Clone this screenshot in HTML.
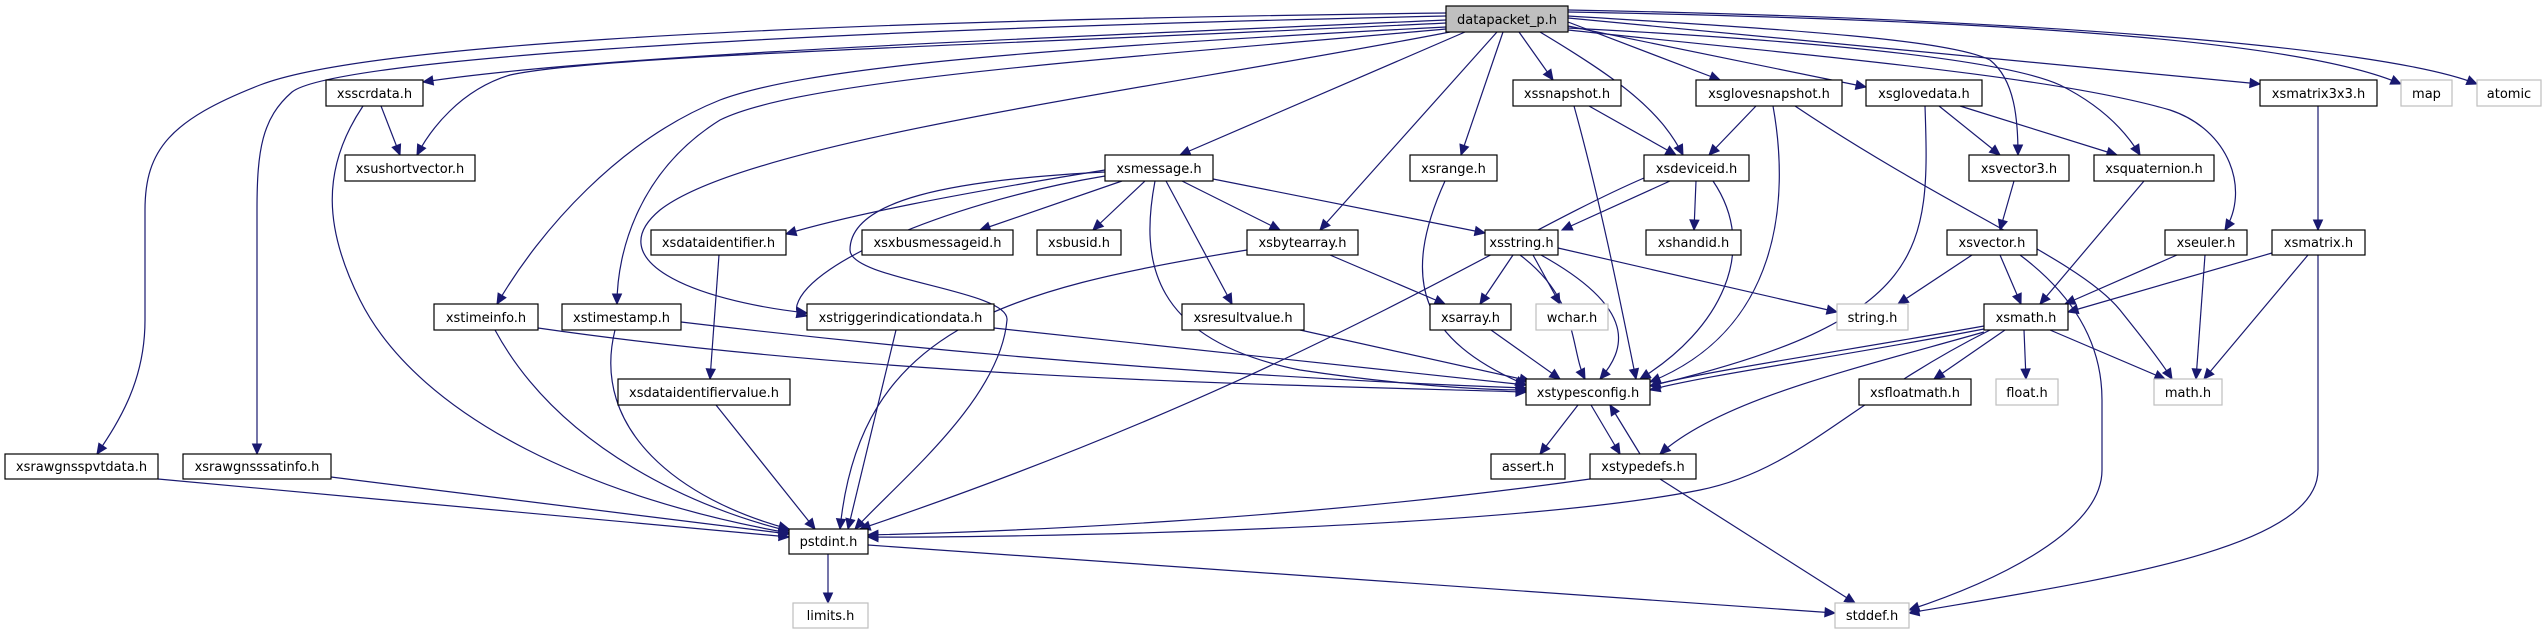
<!DOCTYPE html>
<html><head><meta charset="utf-8"><style>
html,body{margin:0;padding:0;background:#fff;}
svg{display:block;}
.n rect{fill:#fff;stroke:#000;stroke-width:1.2;}
.g rect{fill:#fff;stroke:#bfbfbf;stroke-width:1.2;}
text{font-family:"DejaVu Sans","Liberation Sans",sans-serif;font-size:13px;fill:#000;}
</style></head><body>
<svg id="s" width="2542" height="635" viewBox="0 0 2542 635" xmlns="http://www.w3.org/2000/svg">
<g id="edges" fill="none" stroke="#191970" stroke-width="1.2"></g>
<g id="arrows" fill="#191970" stroke="#191970" stroke-width="1"></g>
<g id="nodes">
<g class="n"><rect x="1446" y="6" width="122" height="26" style="fill:#bfbfbf"/><text x="1507" y="24" text-anchor="middle">datapacket_p.h</text></g>
<g class="n"><rect x="326" y="80" width="97" height="26"/><text x="374.5" y="98" text-anchor="middle">xsscrdata.h</text></g>
<g class="n"><rect x="345" y="155" width="130" height="26"/><text x="410" y="173" text-anchor="middle">xsushortvector.h</text></g>
<g class="n"><rect x="651" y="230" width="135" height="25"/><text x="718.5" y="247" text-anchor="middle">xsdataidentifier.h</text></g>
<g class="n"><rect x="434" y="304" width="104" height="26"/><text x="486" y="322" text-anchor="middle">xstimeinfo.h</text></g>
<g class="n"><rect x="562" y="304" width="119" height="26"/><text x="621.5" y="322" text-anchor="middle">xstimestamp.h</text></g>
<g class="n"><rect x="807" y="304" width="187" height="26"/><text x="900.5" y="322" text-anchor="middle">xstriggerindicationdata.h</text></g>
<g class="n"><rect x="1513" y="80" width="108" height="26"/><text x="1567" y="98" text-anchor="middle">xssnapshot.h</text></g>
<g class="n"><rect x="1105" y="155" width="108" height="26"/><text x="1159" y="173" text-anchor="middle">xsmessage.h</text></g>
<g class="n"><rect x="1410" y="155" width="87" height="26"/><text x="1453.5" y="173" text-anchor="middle">xsrange.h</text></g>
<g class="n"><rect x="1644" y="155" width="105" height="26"/><text x="1696.5" y="173" text-anchor="middle">xsdeviceid.h</text></g>
<g class="n"><rect x="862" y="230" width="151" height="25"/><text x="937.5" y="247" text-anchor="middle">xsxbusmessageid.h</text></g>
<g class="n"><rect x="1037" y="230" width="84" height="25"/><text x="1079" y="247" text-anchor="middle">xsbusid.h</text></g>
<g class="n"><rect x="1247" y="230" width="111" height="25"/><text x="1302.5" y="247" text-anchor="middle">xsbytearray.h</text></g>
<g class="n"><rect x="1485" y="230" width="73" height="25"/><text x="1521.5" y="247" text-anchor="middle">xsstring.h</text></g>
<g class="n"><rect x="1646" y="230" width="95" height="25"/><text x="1693.5" y="247" text-anchor="middle">xshandid.h</text></g>
<g class="n"><rect x="1182" y="304" width="122" height="26"/><text x="1243" y="322" text-anchor="middle">xsresultvalue.h</text></g>
<g class="n"><rect x="1430" y="304" width="81" height="26"/><text x="1470.5" y="322" text-anchor="middle">xsarray.h</text></g>
<g class="g"><rect x="1536" y="304" width="72" height="26"/><text x="1572" y="322" text-anchor="middle">wchar.h</text></g>
<g class="n"><rect x="1696" y="80" width="146" height="26"/><text x="1769" y="98" text-anchor="middle">xsglovesnapshot.h</text></g>
<g class="n"><rect x="1866" y="80" width="116" height="26"/><text x="1924" y="98" text-anchor="middle">xsglovedata.h</text></g>
<g class="n"><rect x="2260" y="80" width="117" height="26"/><text x="2318.5" y="98" text-anchor="middle">xsmatrix3x3.h</text></g>
<g class="g"><rect x="2401" y="80" width="51" height="26"/><text x="2426.5" y="98" text-anchor="middle">map</text></g>
<g class="g"><rect x="2477" y="80" width="64" height="26"/><text x="2509" y="98" text-anchor="middle">atomic</text></g>
<g class="n"><rect x="1969" y="155" width="100" height="26"/><text x="2019" y="173" text-anchor="middle">xsvector3.h</text></g>
<g class="n"><rect x="2094" y="155" width="120" height="26"/><text x="2154" y="173" text-anchor="middle">xsquaternion.h</text></g>
<g class="n"><rect x="1947" y="230" width="90" height="25"/><text x="1992" y="247" text-anchor="middle">xsvector.h</text></g>
<g class="n"><rect x="2165" y="230" width="82" height="25"/><text x="2206" y="247" text-anchor="middle">xseuler.h</text></g>
<g class="n"><rect x="2272" y="230" width="93" height="25"/><text x="2318.5" y="247" text-anchor="middle">xsmatrix.h</text></g>
<g class="g"><rect x="1837" y="304" width="71" height="26"/><text x="1872.5" y="322" text-anchor="middle">string.h</text></g>
<g class="n"><rect x="1984" y="304" width="84" height="26"/><text x="2026" y="322" text-anchor="middle">xsmath.h</text></g>
<g class="n"><rect x="618" y="379" width="172" height="26"/><text x="704" y="397" text-anchor="middle">xsdataidentifiervalue.h</text></g>
<g class="n"><rect x="1526" y="379" width="124" height="26"/><text x="1588" y="397" text-anchor="middle">xstypesconfig.h</text></g>
<g class="n"><rect x="1859" y="379" width="112" height="26"/><text x="1915" y="397" text-anchor="middle">xsfloatmath.h</text></g>
<g class="g"><rect x="1996" y="379" width="62" height="26"/><text x="2027" y="397" text-anchor="middle">float.h</text></g>
<g class="g"><rect x="2154" y="379" width="68" height="26"/><text x="2188" y="397" text-anchor="middle">math.h</text></g>
<g class="n"><rect x="5" y="454" width="153" height="25"/><text x="81.5" y="471" text-anchor="middle">xsrawgnsspvtdata.h</text></g>
<g class="n"><rect x="183" y="454" width="148" height="25"/><text x="257" y="471" text-anchor="middle">xsrawgnsssatinfo.h</text></g>
<g class="n"><rect x="1491" y="454" width="74" height="25"/><text x="1528" y="471" text-anchor="middle">assert.h</text></g>
<g class="n"><rect x="1590" y="454" width="106" height="25"/><text x="1643" y="471" text-anchor="middle">xstypedefs.h</text></g>
<g class="n"><rect x="789" y="529" width="79" height="25"/><text x="828.5" y="546" text-anchor="middle">pstdint.h</text></g>
<g class="g"><rect x="793" y="603" width="75" height="25"/><text x="830.5" y="620" text-anchor="middle">limits.h</text></g>
<g class="g"><rect x="1835" y="603" width="74" height="25"/><text x="1872" y="620" text-anchor="middle">stddef.h</text></g>
</g>
</svg>
<script>
function L(a,b,c,d){return "M"+a+","+b+" C"+a+","+b+" "+a+","+b+" "+c+","+d;}
var P=[
"M1446,13 C700,22 350,50 260,85 C170,120 145,150 145,210 L145,320 C145,380 120,420 97,454",
"M1446,16 C720,32 330,62 292,92 C262,118 257,150 257,210 L257,454",
"M1446,20 C1000,40 600,55 423,82",
"M1446,23 C1000,45 600,55 510,75 C460,90 430,130 417,155",
"M1446,27 C1000,50 800,70 720,100 C620,140 540,230 497,304",
"M1446,29 C1100,60 800,80 720,120 C640,170 617,250 617,304",
"M1450,32 C1150,90 750,140 660,210 C600,260 690,300 807,313",
L(1465,32,1180,155),
L(1497,32,1320,230),
L(1503,32,1461,155),
L(1519,32,1553,80),
"M1540,32 C1620,80 1660,110 1683,155",
L(1568,22,1720,80),
L(1568,26,1866,87),
"M1568,16 C1800,30 1950,40 1990,60 C2015,80 2018,120 2018,155",
"M1568,28 C1800,40 2000,58 2060,85 C2100,105 2125,130 2140,155",
"M1568,30 C1800,55 2050,75 2170,110 C2230,130 2250,190 2225,230",
L(1568,18,2260,84),
"M1568,12 C2000,20 2300,40 2401,84",
"M1568,10 C2000,18 2380,45 2477,84",
L(381,106,400,155),
"M363,106 C320,170 325,230 360,300 C420,420 600,500 789,533",
"M1105,170 C950,195 850,215 786,234",
L(1122,181,980,230),
L(1145,181,1093,230),
L(1182,181,1280,230),
L(1213,179,1485,233),
L(1166,181,1232,304),
"M1155,181 C1140,260 1150,340 1300,370 C1400,385 1480,390 1526,390",
"M1105,172 C950,180 850,200 850,250 C850,280 1010,290 1007,320 C1000,400 900,480 855,529",
"M1105,176 C960,200 810,260 797,305 C795,315 800,314 807,316",
L(719,255,710,379),
L(716,405,815,529),
"M495,330 C560,450 700,510 789,531",
"M538,328 C900,380 1300,385 1526,392",
"M615,330 C590,430 680,500 789,529",
"M681,322 C1000,360 1300,380 1526,388",
L(896,330,848,529),
L(994,328,1526,385),
L(158,479,789,537),
L(331,477,789,534),
L(1589,106,1676,155),
"M1574,106 C1600,200 1620,300 1636,379",
"M1445,181 C1400,280 1420,340 1526,385",
L(1670,181,1562,230),
L(1696,181,1694,230),
"M1713,181 C1760,250 1720,330 1640,379",
"M1644,178 C1500,240 1300,380 860,529",
L(1756,106,1709,155),
"M1773,106 C1790,200 1780,330 1650,382",
"M1795,106 C1950,210 2080,260 2120,310 C2140,335 2160,360 2172,379",
L(1939,106,2000,155),
L(1960,106,2117,155),
"M1925,106 C1930,250 1930,320 1650,386",
L(1330,255,1445,304),
"M1247,250 C1000,290 860,330 840,529",
L(1513,255,1480,304),
L(1533,255,1560,304),
"M1541,255 C1640,310 1625,350 1600,379",
"M1520,255 C1580,300 1570,350 1585,379",
L(1558,248,1837,312),
L(1491,330,1560,379),
L(1300,330,1530,381),
L(2014,181,2000,230),
L(1972,255,1898,304),
L(2000,255,2021,304),
"M2020,255 C2080,300 2102,350 2102,400 L2102,470 C2102,530 2000,580 1909,610",
L(2144,181,2040,304),
L(2177,255,2065,304),
L(2205,255,2196,379),
L(2318,106,2318,230),
L(2272,253,2068,312),
L(2308,255,2204,379),
"M2318,255 L2318,470 C2318,550 2100,580 1909,613",
"M1984,326 C1850,350 1700,372 1650,386",
"M1984,329 C1850,355 1700,376 1650,390",
L(2005,330,1934,379),
L(2024,330,2026,379),
L(2050,330,2165,379),
"M1984,332 C1850,370 1720,400 1660,454",
"M1990,330 C1850,400 1800,470 1700,490 C1500,530 1000,538 868,537",
L(1578,405,1540,454),
L(1591,405,1620,454),
L(1640,454,1610,405),
"M1590,479 C1300,520 1000,532 868,535",
L(1660,479,1855,603),
L(828,554,828,603),
L(868,545,1835,613)
];
var ns="http://www.w3.org/2000/svg",eg=document.getElementById("edges"),ag=document.getElementById("arrows");
P.forEach(function(d){
 var nums=d.match(/-?\d+(\.\d+)?/g).map(Number),n=nums.length;
 var ex=nums[n-2],ey=nums[n-1],px=nums[n-4],py=nums[n-3];
 var dx=ex-px,dy=ey-py,l=Math.sqrt(dx*dx+dy*dy)||1;dx/=l;dy/=l;
 var p=document.createElementNS(ns,"path");p.setAttribute("d",d);eg.appendChild(p);
 var bx=ex-dx*10,by=ey-dy*10,nx=-dy*4.5,ny=dx*4.5;
 var a=document.createElementNS(ns,"polygon");
 a.setAttribute("points",ex+","+ey+" "+(bx+nx)+","+(by+ny)+" "+(bx-nx)+","+(by-ny));
 ag.appendChild(a);
});
</script>
</body></html>
